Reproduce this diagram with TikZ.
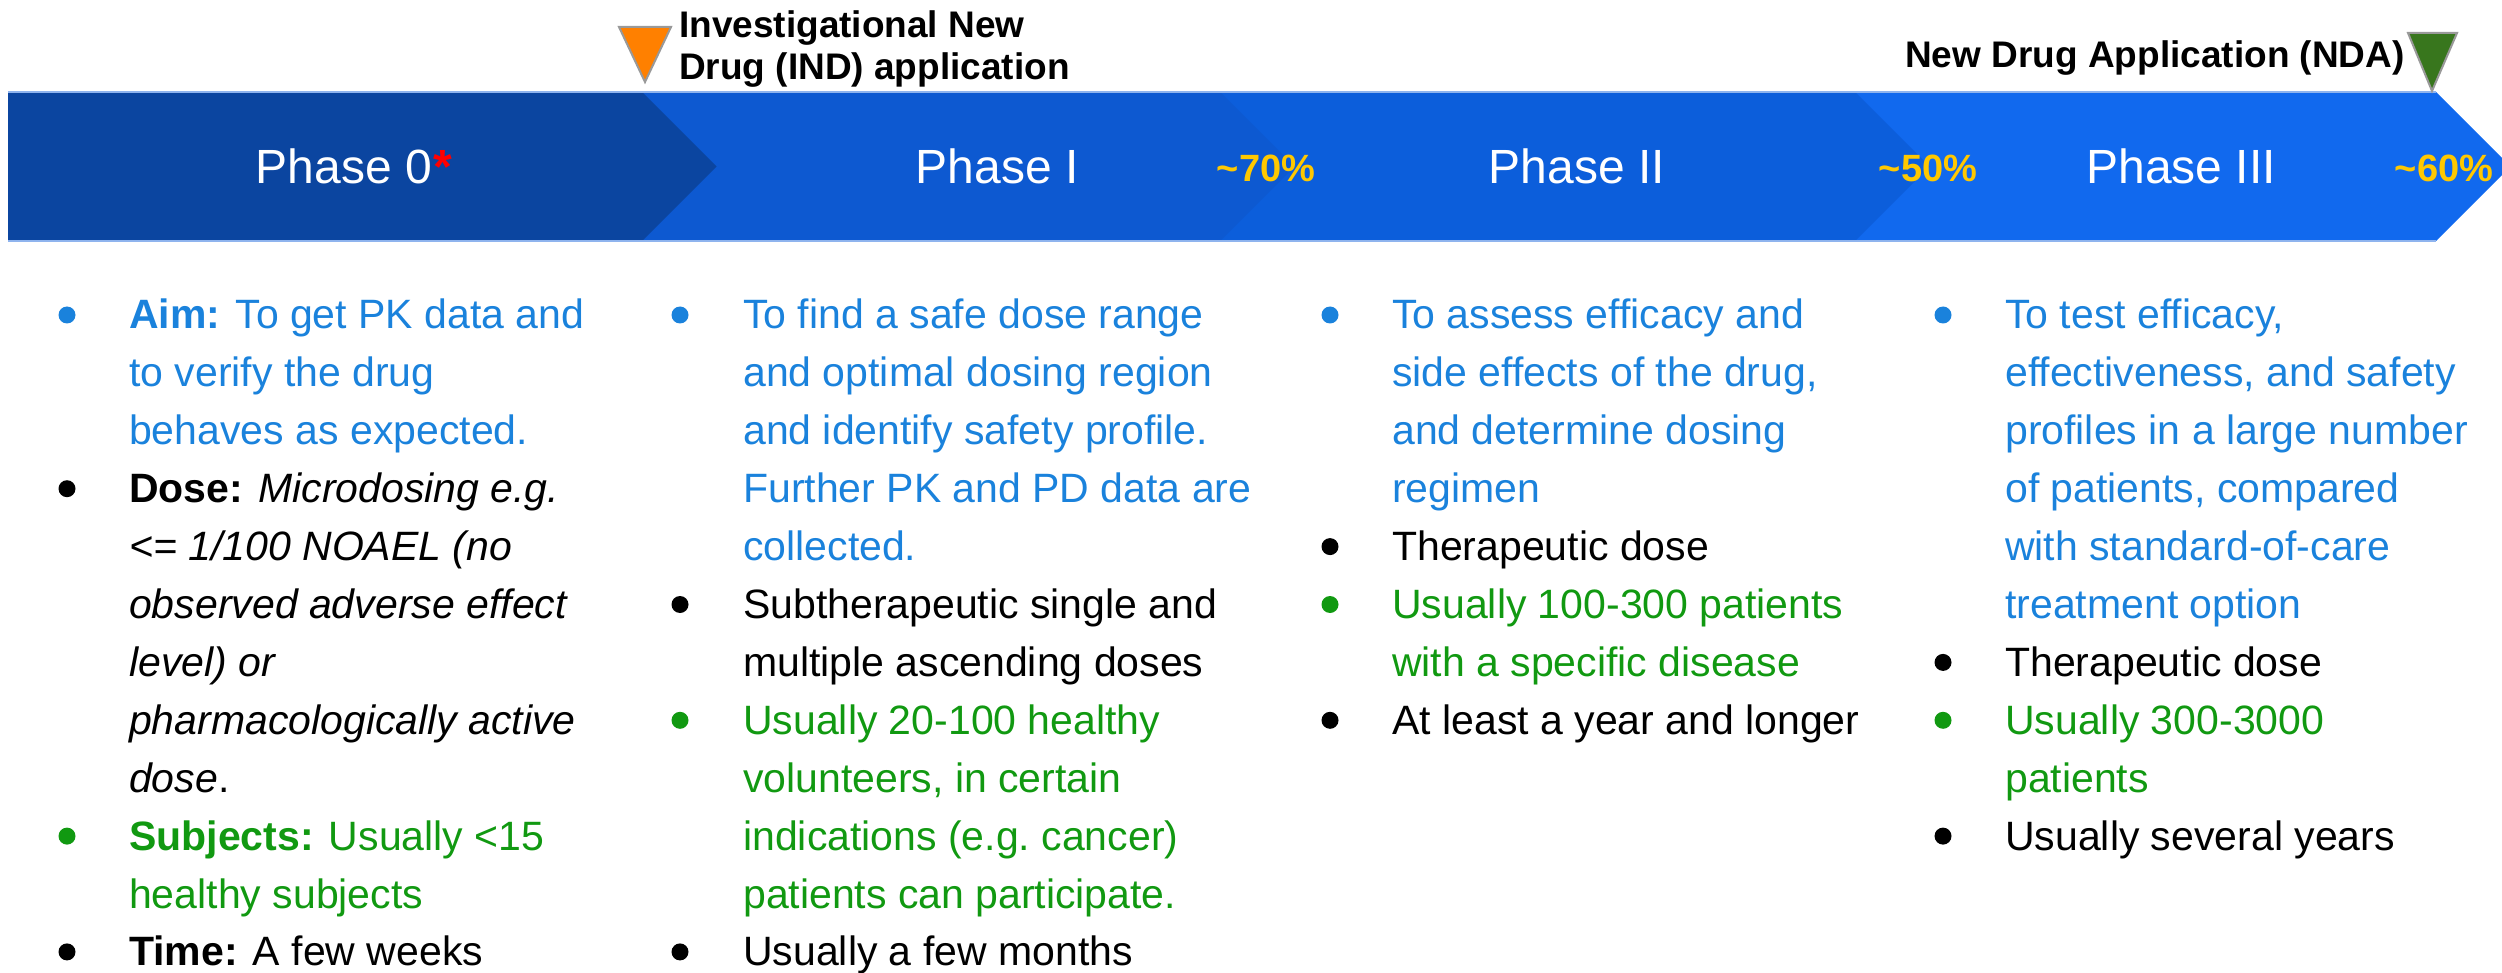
\documentclass[tikz,border=0pt]{standalone}
\usepackage{fontspec}
\setmainfont{Liberation Sans}
\definecolor{pzero}{HTML}{0B45A0}
\definecolor{pone}{HTML}{0D59D1}
\definecolor{ptwo}{HTML}{0C5EDB}
\definecolor{pthree}{HTML}{1169EE}
\definecolor{edgeblue}{HTML}{8FB4EE}
\definecolor{tblue}{HTML}{1A82DC}
\definecolor{tgreen}{HTML}{119911}
\definecolor{gold}{HTML}{FFC800}
\definecolor{indorange}{HTML}{FF8000}
\definecolor{ndagreen}{HTML}{38761D}
\newcommand\bodyfont{\fontsize{41}{58}\selectfont}
\newcommand\tline[5]{\node[anchor=base west, inner sep=0pt, text=#4, font=\bodyfont] (#1) at (#2,{329+57.9*(#3-1)}) {#5};}
\newcommand\bul[3]{\fill[#3] (#1,{329+57.9*(#2-1)-14}) circle (8.5);}
\newcommand\tld{\char"007E\relax}
\tikzset{
  phaselabel/.style={anchor=base, inner sep=0pt, text=white, font=\fontsize{48}{56}\selectfont},
  pct/.style={anchor=base, inner sep=0pt, text=gold, font=\fontsize{38}{44}\selectfont\bfseries},
  milestone/.style={anchor=base west, inner sep=0pt, text=black, font=\fontsize{37}{42}\selectfont\bfseries},
  marker/.style={draw=gray!80, line width=2pt, line join=miter}
}
\begin{document}
\begin{tikzpicture}[x=1pt,y=-1pt]
\useasboundingbox (0,0) rectangle (2502,973);
\begin{scope}
\clip (0,0) rectangle (2502,973);
\fill[pthree] (1855,92) -- (2436,92) -- (2510.5,166.5) -- (2436,241) -- (1855,241) -- cycle;
\fill[ptwo] (1220,92) -- (1855,92) -- (1929.5,166.5) -- (1855,241) -- (1220,241) -- cycle;
\fill[pone] (642,92) -- (1220,92) -- (1294.5,166.5) -- (1220,241) -- (642,241) -- cycle;
\fill[pzero] (8,92) -- (642,92) -- (716.5,166.5) -- (642,241) -- (8,241) -- cycle;
\draw[edgeblue, line width=1.5pt] (8,92) -- (2436,92);
\draw[edgeblue, line width=1.5pt] (8,241) -- (2436,241);
\end{scope}
% phase labels
\node[phaselabel] (ph0) at (344,184) {Phase 0};
\node[anchor=base west, inner sep=0pt, text=red, font=\fontsize{48}{56}\selectfont\bfseries] (ast) at ([xshift=1pt]ph0.base east) {*};
\node[phaselabel] (ph1) at (997,184) {Phase I};
\node[phaselabel] (ph2) at (1577,184) {Phase II};
\node[phaselabel] (ph3) at (2181,184) {Phase III};
\node[pct] (p70) at (1266,182) {\tld 70\%};
\node[pct] (p50) at (1928,182) {\tld 50\%};
\node[pct] (p60) at (2444,182) {\tld 60\%};
% milestones
\draw[marker, fill=indorange] (619,27) -- (671,27) -- (645,82) -- cycle;
\node[milestone] (ind1) at (679,38) {Investigational New};
\node[milestone] (ind2) at (679,80) {Drug (IND) application};
\draw[marker, fill=ndagreen] (2408,33) -- (2457,33) -- (2432,91) -- cycle;
\node[milestone] (nda) at (1905,68) {New Drug Application (NDA)};
% column 1
\bul{67}{1}{tblue}
\tline{a1}{129}{1}{tblue}{\bfseries Aim: \mdseries To get PK data and}
\tline{a2}{129}{2}{tblue}{to verify the drug}
\tline{a3}{129}{3}{tblue}{behaves as expected.}
\bul{67}{4}{black}
\tline{a4}{129}{4}{black}{\bfseries Dose: \mdseries\itshape Microdosing e.g.}
\tline{a5}{129}{5}{black}{\itshape <= 1/100 NOAEL (no}
\tline{a6}{129}{6}{black}{\itshape observed adverse effect}
\tline{a7}{129}{7}{black}{\itshape level) or}
\tline{a8}{129}{8}{black}{\itshape pharmacologically active}
\tline{a9}{129}{9}{black}{\textit{dose}.}
\bul{67}{10}{tgreen}
\tline{a10}{129}{10}{tgreen}{\bfseries Subjects: \mdseries Usually <15}
\tline{a11}{129}{11}{tgreen}{healthy subjects}
\bul{67}{12}{black}
\tline{a12}{129}{12}{black}{\bfseries Time: \mdseries A few weeks}
% column 2
\bul{680}{1}{tblue}
\tline{b1}{743}{1}{tblue}{To find a safe dose range}
\tline{b2}{743}{2}{tblue}{and optimal dosing region}
\tline{b3}{743}{3}{tblue}{and identify safety profile.}
\tline{b4}{743}{4}{tblue}{Further PK and PD data are}
\tline{b5}{743}{5}{tblue}{collected.}
\bul{680}{6}{black}
\tline{b6}{743}{6}{black}{Subtherapeutic single and}
\tline{b7}{743}{7}{black}{multiple ascending doses}
\bul{680}{8}{tgreen}
\tline{b8}{743}{8}{tgreen}{Usually 20-100 healthy}
\tline{b9}{743}{9}{tgreen}{volunteers, in certain}
\tline{b10}{743}{10}{tgreen}{indications (e.g.\ cancer)}
\tline{b11}{743}{11}{tgreen}{patients can participate.}
\bul{680}{12}{black}
\tline{b12}{743}{12}{black}{Usually a few months}
% column 3
\bul{1330}{1}{tblue}
\tline{c1}{1392}{1}{tblue}{To assess efficacy and}
\tline{c2}{1392}{2}{tblue}{side effects of the drug,}
\tline{c3}{1392}{3}{tblue}{and determine dosing}
\tline{c4}{1392}{4}{tblue}{regimen}
\bul{1330}{5}{black}
\tline{c5}{1392}{5}{black}{Therapeutic dose}
\bul{1330}{6}{tgreen}
\tline{c6}{1392}{6}{tgreen}{Usually 100-300 patients}
\tline{c7}{1392}{7}{tgreen}{with a specific disease}
\bul{1330}{8}{black}
\tline{c8}{1392}{8}{black}{At least a year and longer}
% column 4
\bul{1943}{1}{tblue}
\tline{d1}{2005}{1}{tblue}{To test efficacy,}
\tline{d2}{2005}{2}{tblue}{effectiveness, and safety}
\tline{d3}{2005}{3}{tblue}{profiles in a large number}
\tline{d4}{2005}{4}{tblue}{of patients, compared}
\tline{d5}{2005}{5}{tblue}{with standard-of-care}
\tline{d6}{2005}{6}{tblue}{treatment option}
\bul{1943}{7}{black}
\tline{d7}{2005}{7}{black}{Therapeutic dose}
\bul{1943}{8}{tgreen}
\tline{d8}{2005}{8}{tgreen}{Usually 300-3000}
\tline{d9}{2005}{9}{tgreen}{patients}
\bul{1943}{10}{black}
\tline{d10}{2005}{10}{black}{Usually several years}
\end{tikzpicture}
\end{document}
